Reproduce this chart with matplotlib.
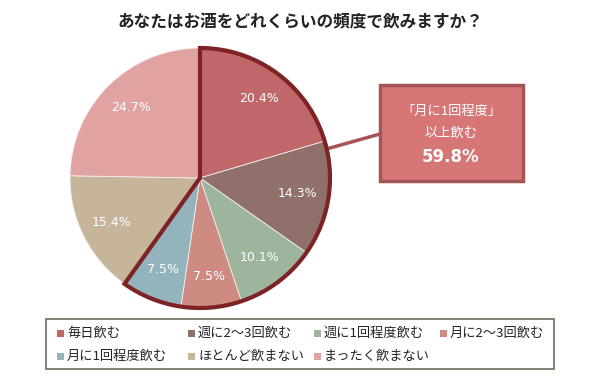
import matplotlib
matplotlib.use("Agg")
import matplotlib.pyplot as plt
from matplotlib.patches import Wedge, Rectangle
import numpy as np

plt.rcParams['font.family'] = ['Noto Sans CJK JP', 'DejaVu Sans']

title = "あなたはお酒をどれくらいの頻度で飲みますか？"
categories = ["毎日飲む", "週に2～3回飲む", "週に1回程度飲む", "月に2～3回飲む",
              "月に1回程度飲む", "ほとんど飲まない", "まったく飲まない"]
values = [20.4, 14.3, 10.1, 7.5, 7.5, 15.4, 24.7]
colors = ["#C0676A", "#8F706B", "#9CB59C", "#CD8B81", "#94B4BD", "#C6B49B", "#E1A2A2"]
highlight_count = 5
callout_lines = ["「月に1回程度」", "以上飲む"]
callout_value = "59.8%"

W, H = 600, 380
fig = plt.figure(figsize=(6, 3.8), dpi=100)
ax = fig.add_axes([0, 0, 1, 1])

def py(y):  # pixel y (top-down) to data y
    return H - y

cx, cy, r = 200, py(178), 130
wedges, _ = ax.pie(values, colors=colors, startangle=90, counterclock=False,
                   center=(cx, cy), radius=r,
                   wedgeprops=dict(edgecolor="#F4EEEE", linewidth=0.6))

for w, v in zip(wedges, values):
    mid = np.deg2rad((w.theta1 + w.theta2) / 2)
    ax.text(cx + 0.76 * r * np.cos(mid), cy + 0.76 * r * np.sin(mid), f"{v:.1f}%",
            color="white", fontsize=9, ha="center", va="center", family="DejaVu Sans")

total = sum(values)
hl = sum(values[:highlight_count])
ax.add_patch(Wedge((cx, cy), r, 90 - hl / total * 360, 90, fill=False,
                   edgecolor="#7E2325", linewidth=3, joinstyle="miter", zorder=5))

# callout
ax.plot([330, 380], [py(148), py(134)], color="#A85355", linewidth=2.5, zorder=4)
ax.add_patch(Rectangle((380, py(181)), 143, 96, facecolor="#D67677",
                       edgecolor="#A55557", linewidth=2.5, zorder=6))
ax.text(451, py(111), callout_lines[0], color="white", fontsize=9.5, ha="center", va="center", zorder=7)
ax.text(451, py(133), callout_lines[1], color="white", fontsize=9.5, ha="center", va="center", zorder=7)
ax.text(451, py(157), callout_value, color="white", fontsize=12, fontweight="bold",
        ha="center", va="center", zorder=7, family="DejaVu Sans")

# title
ax.text(300, py(22), title, fontsize=12, fontweight="bold", ha="center", va="center", color="#222222")

# legend
ax.add_patch(Rectangle((45.5, py(368.5)), 508, 50, fill=False, edgecolor="#6E6E5E", linewidth=1.2))
col_x = [57, 188, 314, 440]
row_y = [333, 356]
for i, (c, col) in enumerate(zip(categories, colors)):
    rr, cc = divmod(i, 4)
    x, y = col_x[cc], row_y[rr]
    ax.add_patch(Rectangle((x, py(y + 3.5)), 7, 7, facecolor=col, edgecolor="none"))
    ax.text(x + 10, py(y), c, fontsize=9.5, ha="left", va="center", color="#222222")

ax.set_xlim(0, W)
ax.set_ylim(0, H)
ax.set_aspect("auto")
ax.axis("off")
fig.savefig("out.png", dpi=100, facecolor="white")
